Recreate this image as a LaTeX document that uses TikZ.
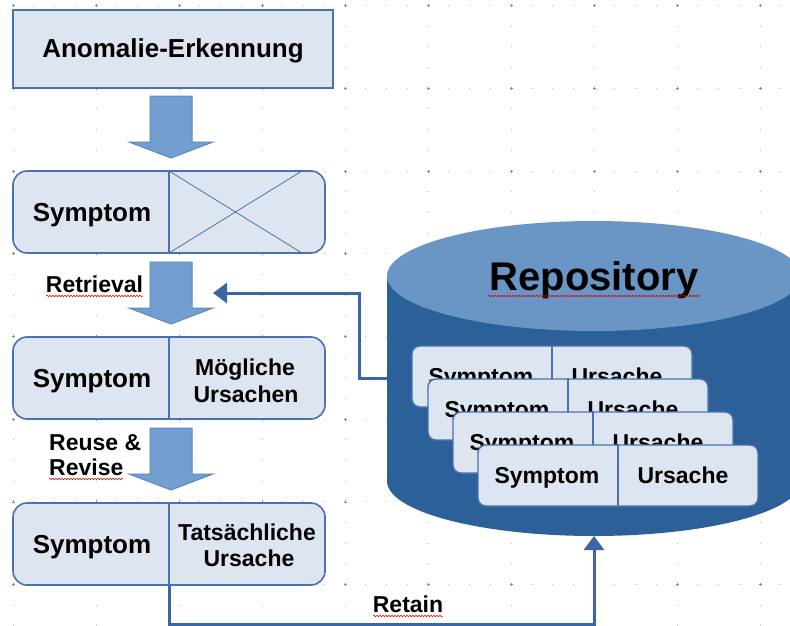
\documentclass[tikz,border=0pt]{standalone}
\usepackage{fontspec}
\setmainfont{Liberation Sans}
\usetikzlibrary{arrows.meta,decorations.pathmorphing}
\definecolor{boxfill}{HTML}{DDE6F0}
\definecolor{boxline}{HTML}{4A72B0}
\definecolor{arrfill}{HTML}{729FCF}
\definecolor{arrline}{HTML}{5A88C0}
\definecolor{cylbody}{HTML}{2C6099}
\definecolor{cyltop}{HTML}{6A96C6}
\definecolor{conn}{HTML}{3A66A6}
\definecolor{gridmajor}{HTML}{8C8C8C}
\definecolor{gridminor}{HTML}{B8B8B8}
\tikzset{
 mainbox/.style={draw=boxline, fill=boxfill, line width=1.6pt, rounded corners=14pt, minimum width=312pt, minimum height=82pt, inner sep=0pt},
 topbox/.style={draw=boxline, fill=boxfill, line width=1.6pt, minimum width=320pt, minimum height=78pt, inner sep=0pt},
 card/.style={draw=boxline, fill=boxfill, line width=1.4pt, rounded corners=8pt, minimum width=280pt, minimum height=61pt, inner sep=0pt},
 bigtxt/.style={font=\bfseries\fontsize{26}{30}\selectfont, inner sep=0pt, anchor=base},
 midtxt/.style={font=\bfseries\fontsize{23}{27}\selectfont, inner sep=0pt, anchor=base},
 repotxt/.style={font=\bfseries\fontsize{40}{46}\selectfont, inner sep=0pt, anchor=base},
 blockarrow/.style={fill=arrfill, draw=arrline, line width=1pt, line join=miter},
 connline/.style={draw=conn, line width=3pt},
 spell/.style={draw=red!85!black, line width=0.5pt, decorate, decoration={snake, amplitude=0.8pt, segment length=3pt}},
 blk/.pic={\draw[blockarrow] (-21,0) -- (21,0) -- (21,46) -- (42,46) -- (0,62) -- (-42,46) -- (-21,46) -- cycle;},
}
\begin{document}
\begin{tikzpicture}[x=1pt,y=-1pt]
\useasboundingbox (0,0) rectangle (790,626);
\fill[white] (0,0) rectangle (790,626);
% dot grid
\foreach \gy in {5.6,88.3,171,253.7,336.4,419.1,501.8,584.5}{
  \foreach \k in {0,...,37}{
    \fill[gridminor] ({13+20.75*\k-0.5},{\gy-0.5}) rectangle ++(1,1);
  }
}
\foreach \gx in {13,96,179,262,345,428,511,594,677,760}{
  \foreach \k in {0,...,30}{
    \fill[gridminor] ({\gx-0.5},{5.6+20.675*\k-0.5}) rectangle ++(1,1);
  }
  \foreach \gy in {5.6,88.3,171,253.7,336.4,419.1,501.8,584.5}{
    \draw[gridmajor, line width=0.6pt] (\gx-1.5,\gy) -- (\gx+1.5,\gy) (\gx,\gy-1.5) -- (\gx,\gy+1.5);
  }
}
% left column
\node[topbox] (detect) at (173,49) {};
\node[bigtxt] (detecttxt) at (173,58) {Anomalie-Erkennung};
\pic at (171,96) {blk};
\node[mainbox] (b1) at (169,212) {};
\draw[boxline, line width=1.6pt] (b1.north) -- (b1.south);
\draw[boxline, line width=0.8pt] (169,171) -- (302,253) (302,171) -- (169,253);
\node[bigtxt] (b1s) at (92,221) {Symptom};
\pic at (171,262) {blk};
\node[midtxt] (retr) at (94.5,292) {Retrieval};
\draw[spell] (46,296) -- (143,296);
\node[mainbox] (b2) at (169,378) {};
\draw[boxline, line width=1.6pt] (b2.north) -- (b2.south);
\node[bigtxt] (b2s) at (92,387) {Symptom};
\node[midtxt] (b2a) at (245,375) {Mögliche};
\node[midtxt] (b2b) at (246,402) {Ursachen};
\pic at (171,428) {blk};
\node[midtxt, anchor=base west] (reuse) at (49,450) {Reuse \&};
\node[midtxt, anchor=base west] (revise) at (49,475) {Revise};
\draw[spell] (49,479) -- (123,479);
\node[mainbox] (b3) at (169,544) {};
\draw[boxline, line width=1.6pt] (b3.north) -- (b3.south);
\node[bigtxt] (b3s) at (92,553) {Symptom};
\node[midtxt] (b3a) at (247,540) {Tatsächliche};
\node[midtxt] (b3b) at (249,566) {Ursache};
% repository cylinder
\fill[cylbody] (387,276) rectangle (801,481);
\fill[cylbody] (594,481) ellipse [x radius=207, y radius=55];
\fill[cyltop] (594,276) ellipse [x radius=207, y radius=55];
\node[repotxt] (repo) at (594,290) {Repository};
\draw[spell] (488,296) -- (700,296);
\coordinate (repoL) at (387,378);
\coordinate (repoB) at (594,536);
% cards
\foreach \cx/\cy/\nm in {552/376.5/c1, 568/409.5/c2, 593/442.5/c3, 618/475.5/c4}{
  \node[card] (\nm) at (\cx,\cy) {};
  \draw[boxline, line width=1.4pt] (\nm.north) -- (\nm.south);
  \node[midtxt] (\nm s) at (\cx-71,\cy+7.5) {Symptom};
  \node[midtxt] (\nm u) at (\cx+65,\cy+7.5) {Ursache};
}
% connectors
\coordinate (retrEnd) at (213,293);
\draw[connline, -{Triangle[length=14pt,width=20pt]}] (repoL) -- (359,378) |- (retrEnd);
\draw[connline, -{Triangle[length=14pt,width=20pt]}] (b3.south) -- (169,624) -| (repoB);
\node[midtxt] (retain) at (408,612) {Retain};
\draw[spell] (373,616) -- (443,616);
\end{tikzpicture}
\end{document}
